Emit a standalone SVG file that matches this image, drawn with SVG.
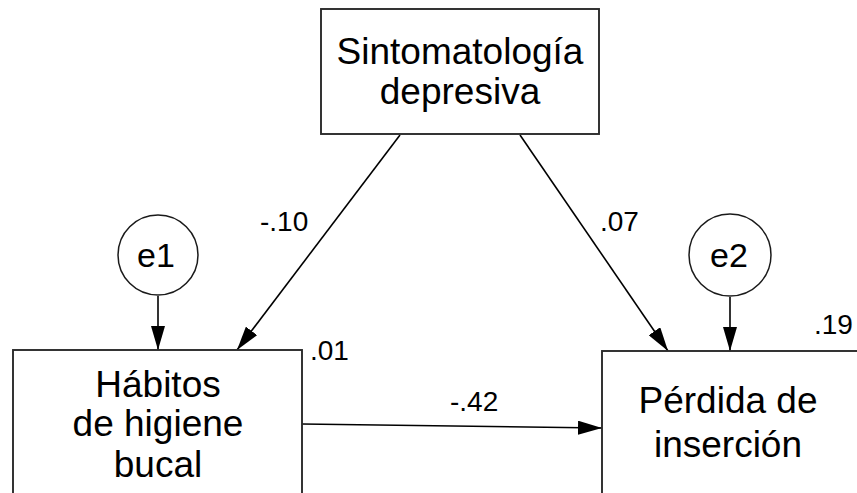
<svg xmlns="http://www.w3.org/2000/svg" width="857" height="493" viewBox="0 0 857 493">
  <style>
    .box { fill: #ffffff; stroke: #2a2a2a; stroke-width: 1.9; }
    .circ { fill: #ffffff; stroke: #1a1a1a; stroke-width: 1.5; }
    .main { font-family: "Liberation Sans", Arial, sans-serif; font-size: 37px; fill: #000; text-anchor: middle; }
    .lab { font-family: "Liberation Sans", Arial, sans-serif; font-size: 28px; fill: #000; }
    .ctext { font-family: "Liberation Sans", Arial, sans-serif; font-size: 34px; fill: #000; text-anchor: middle; }
    .edge { fill: none; stroke: #000; stroke-width: 1.6; marker-end: url(#arrow); }
  </style>
  <defs>
    <marker id="arrow" viewBox="0 0 24 14" refX="24" refY="7" markerWidth="24" markerHeight="14" markerUnits="userSpaceOnUse" orient="auto">
      <path d="M0,0 L24,7 L0,14 z" fill="#000"/>
    </marker>
  </defs>
  <rect width="857" height="493" fill="#ffffff"/>

  <g id="connectors">
    <line class="edge" x1="400" y1="135" x2="237" y2="350"/>
    <line class="edge" x1="520" y1="135" x2="668" y2="351"/>
    <line class="edge" x1="158" y1="296" x2="158" y2="350"/>
    <line class="edge" x1="730" y1="297" x2="730" y2="351"/>
    <line class="edge" x1="302" y1="424" x2="602" y2="428"/>
  </g>

  <g id="node-sintomatologia">
    <rect class="box" x="321" y="9" width="278" height="125"/>
    <text class="main" x="460" y="64">Sintomatología</text>
    <text class="main" x="460" y="104">depresiva</text>
  </g>

  <g id="node-habitos">
    <rect class="box" x="13" y="350" width="289" height="160"/>
    <text class="main" x="158" y="397">Hábitos</text>
    <text class="main" x="158" y="436">de higiene</text>
    <text class="main" x="158" y="477">bucal</text>
  </g>

  <g id="node-perdida">
    <rect class="box" x="602" y="351" width="270" height="160"/>
    <text class="main" x="728" y="413">Pérdida de</text>
    <text class="main" x="728" y="457">inserción</text>
  </g>

  <g id="node-e1">
    <circle class="circ" cx="158" cy="255" r="40"/>
    <text class="ctext" x="156" y="267">e1</text>
  </g>

  <g id="node-e2">
    <circle class="circ" cx="730" cy="255" r="41"/>
    <text class="ctext" x="729" y="267">e2</text>
  </g>

  <g id="labels">
    <text class="lab" x="260" y="231">-.10</text>
    <text class="lab" x="600" y="231">.07</text>
    <text class="lab" x="310" y="360">.01</text>
    <text class="lab" x="814" y="334">.19</text>
    <text class="lab" x="450" y="411">-.42</text>
  </g>
</svg>
